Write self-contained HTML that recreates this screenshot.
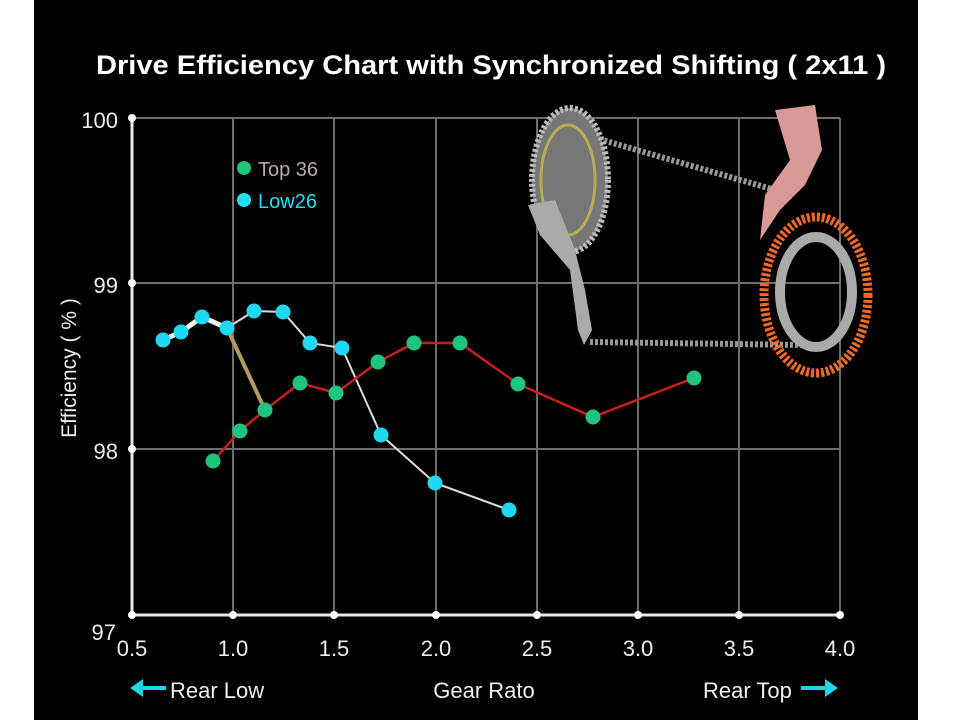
<!DOCTYPE html>
<html><head><meta charset="utf-8"><style>
html,body{margin:0;padding:0;background:#fff;width:960px;height:720px;overflow:hidden}
svg{display:block}
text{font-family:"Liberation Sans",sans-serif}
</style></head><body>
<svg width="960" height="720" viewBox="0 0 960 720" xmlns="http://www.w3.org/2000/svg">
<rect x="34" y="0" width="884" height="720" fill="#000"/>
<text x="491" y="74" fill="#fff" font-size="27" font-weight="bold" text-anchor="middle" textLength="790" lengthAdjust="spacingAndGlyphs">Drive Efficiency Chart with Synchronized Shifting ( 2x11 )</text>
<!-- grid -->
<g stroke="#6e6e6e" stroke-width="2">
<line x1="132" y1="118" x2="840" y2="118"/>
<line x1="132" y1="283" x2="840" y2="283"/>
<line x1="132" y1="449" x2="840" y2="449"/>
<line x1="233" y1="118" x2="233" y2="615"/>
<line x1="334" y1="118" x2="334" y2="615"/>
<line x1="436" y1="118" x2="436" y2="615"/>
<line x1="537" y1="118" x2="537" y2="615"/>
<line x1="638" y1="118" x2="638" y2="615"/>
<line x1="739" y1="118" x2="739" y2="615"/>
<line x1="840" y1="118" x2="840" y2="615"/>
</g>
<g stroke="#e8e8e8" stroke-width="3">
<line x1="132" y1="118" x2="132" y2="615"/>
<line x1="132" y1="615" x2="840" y2="615"/>
</g>
<g fill="#fff">
<circle cx="132" cy="118" r="4"/><circle cx="132" cy="283" r="4"/><circle cx="132" cy="449" r="4"/><circle cx="132" cy="615" r="4"/>
<circle cx="233" cy="615" r="4"/><circle cx="334" cy="615" r="4"/><circle cx="436" cy="615" r="4"/><circle cx="537" cy="615" r="4"/><circle cx="638" cy="615" r="4"/><circle cx="739" cy="615" r="4"/><circle cx="840" cy="615" r="4"/>
</g>
<g fill="#eee" font-size="22" text-anchor="end">
<text x="118" y="128">100</text><text x="118" y="293">99</text><text x="118" y="459">98</text><text x="116" y="640">97</text>
</g>
<g fill="#eee" font-size="22" text-anchor="middle">
<text x="132" y="656">0.5</text><text x="233" y="656">1.0</text><text x="334" y="656">1.5</text><text x="436" y="656">2.0</text><text x="537" y="656">2.5</text><text x="638" y="656">3.0</text><text x="739" y="656">3.5</text><text x="840" y="656">4.0</text>
</g>
<text transform="translate(76,368) rotate(-90)" fill="#eee" font-size="21" text-anchor="middle">Efficiency ( % )</text>
<text x="170" y="698" fill="#eee" font-size="22">Rear Low</text>
<text x="484" y="698" fill="#eee" font-size="22" text-anchor="middle">Gear Rato</text>
<text x="703" y="698" fill="#eee" font-size="22">Rear Top</text>
<g fill="#22d3e6" stroke="#22d3e6">
<line x1="140" y1="688" x2="166" y2="688" stroke-width="4"/><polygon points="130,688 143,679 143,697" stroke="none"/>
<line x1="801" y1="688" x2="826" y2="688" stroke-width="4"/><polygon points="838,688 825,679 825,697" stroke="none"/>
</g>
<!-- legend -->
<circle cx="244" cy="168" r="7" fill="#1fc47e"/>
<text x="258" y="176" fill="#b8a9ae" font-size="20">Top 36</text>
<circle cx="244" cy="200" r="7" fill="#20e0f0"/>
<text x="258" y="208" fill="#20e0f0" font-size="20">Low26</text>
<!-- illustration -->
<g>
<line x1="585" y1="135" x2="775" y2="190" stroke="#999" stroke-width="6" stroke-dasharray="3,2"/>
<line x1="590" y1="342" x2="805" y2="345" stroke="#999" stroke-width="6" stroke-dasharray="3,2"/>
<ellipse cx="570" cy="180" rx="38" ry="72" fill="#777" stroke="#bbb" stroke-width="6" stroke-dasharray="3,2"/>
<ellipse cx="568" cy="180" rx="27" ry="55" fill="none" stroke="#b8ad50" stroke-width="3"/>
<path d="M528,205 L555,200 L575,250 L585,290 L592,330 L584,345 L578,330 L570,270 L540,235 Z" fill="#aaa"/>
<path d="M775,110 L815,105 L822,150 L805,185 L780,210 L760,240 L765,195 L790,160 Z" fill="#d89a96"/>
<ellipse cx="816" cy="295" rx="52" ry="78" fill="none" stroke="#f06a26" stroke-width="9" stroke-dasharray="3,2"/>
<ellipse cx="816" cy="292" rx="36" ry="55" fill="none" stroke="#aaa" stroke-width="10"/>
</g>
<!-- Low26 series -->
<polyline points="163,340 181,332 202,317 227,328" fill="none" stroke="#f4f4f4" stroke-width="5"/>
<polyline points="227,328 254,311 283,312 310,343 342,348 381,435 435,483 509,510" fill="none" stroke="#dcdcdc" stroke-width="2"/>
<line x1="227" y1="328" x2="265" y2="410" stroke="#b39a60" stroke-width="4"/>
<!-- Top36 series -->
<polyline points="213,461 240,431 265,410 300,383 336,393 378,362 414,343 460,343 518,384 593,417 694,378" fill="none" stroke="#c81e1e" stroke-width="2.5"/>
<g fill="#1fc47e">
<circle cx="213" cy="461" r="7.5"/><circle cx="240" cy="431" r="7.5"/><circle cx="265" cy="410" r="7.5"/><circle cx="300" cy="383" r="7.5"/><circle cx="336" cy="393" r="7.5"/><circle cx="378" cy="362" r="7.5"/><circle cx="414" cy="343" r="7.5"/><circle cx="460" cy="343" r="7.5"/><circle cx="518" cy="384" r="7.5"/><circle cx="593" cy="417" r="7.5"/><circle cx="694" cy="378" r="7.5"/>
</g>
<g fill="#20d8f0">
<circle cx="163" cy="340" r="7.5"/><circle cx="181" cy="332" r="7.5"/><circle cx="202" cy="317" r="7.5"/><circle cx="227" cy="328" r="7.5"/><circle cx="254" cy="311" r="7.5"/><circle cx="283" cy="312" r="7.5"/><circle cx="310" cy="343" r="7.5"/><circle cx="342" cy="348" r="7.5"/><circle cx="381" cy="435" r="7.5"/><circle cx="435" cy="483" r="7.5"/><circle cx="509" cy="510" r="7.5"/>
</g>
</svg>
</body></html>
